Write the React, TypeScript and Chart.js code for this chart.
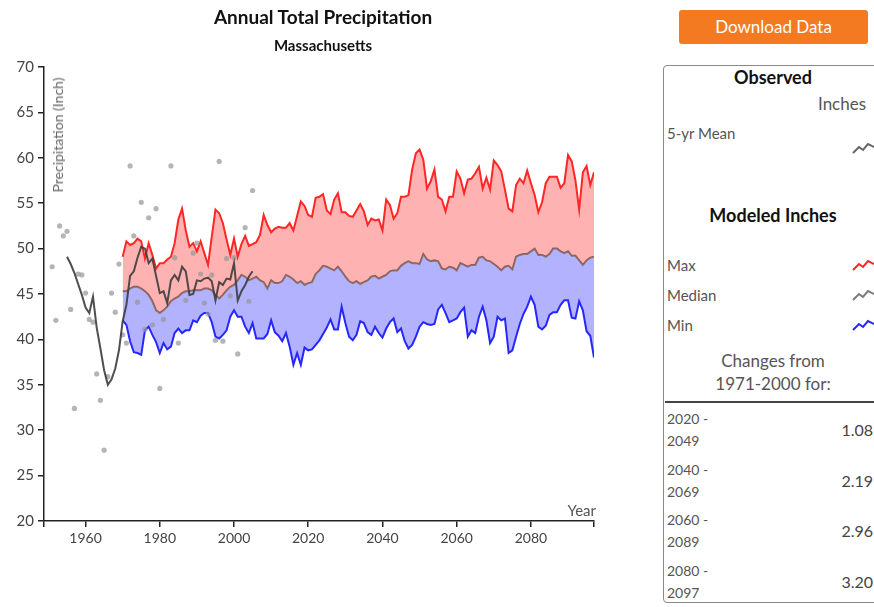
import React, { useEffect, useRef } from 'react';
import { Chart, registerables } from 'chart.js';

Chart.register(...registerables);

// ---- axis ----
const X_MIN = 1948.8;
const X_MAX = 2097;
const xTickYears = [1960, 1980, 2000, 2020, 2040, 2060, 2080];
const Y_MIN = 20;
const Y_MAX = 70;
const Y_STEP = 5;

// ---- observed ----
const observedStartYear = 1951;
const observedAnnual = [
  48.0, 42.1, 52.5, 51.4, 51.9, 43.3, 32.4, 47.2, 47.1, 45.1,
  42.2, 41.9, 36.2, 33.3, 27.8, 35.9, 45.1, 43.0, 48.3, 40.5,
  39.6, 59.1, 51.4, 44.1, 55.1, 41.1, 53.4, 41.6, 54.4, 34.6,
  42.2, null, 59.1, 49.0, 39.6, null, 44.3, null, 49.5, 50.6,
  47.2, 44.0, 42.8, 47.1, 39.9, 59.6, 39.8, 48.9, 44.8, 49.0,
  38.4, null, 52.3, 44.2, 56.4,
];

const meanStartYear = 1955;
const observedMean5yr = [
  49.1, 48.3, 47.3, 46.1, 44.9, 43.5, 42.9, 44.7, 41.3, 39.0,
  36.6, 35.0, 35.6, 36.8, 38.8, 42.0, 43.8, 47.0, 47.5, 49.0,
  50.2, 50.0, 48.4, 48.9, 47.0, 45.1, 45.3, 44.0, 46.5, 47.1,
  46.5, 48.0, 47.5, 44.9, 45.0, 46.5, 46.4, 46.7, 46.8, 46.4,
  44.3, 46.3, 46.0, 46.7, 46.6, 48.4, 44.3, 45.3, 46.0, 46.9,
  47.5,
];

// ---- modeled ----
const modelStartYear = 1970;
const modeledMax = [
  49.1, 50.8, 50.4, 50.6, 51.1, 50.8, 48.9, 50.6, 49.3, 47.8,
  48.4, 48.4, 48.8, 49.1, 50.6, 53.2, 54.4, 52.0, 50.2, 50.6,
  49.7, 50.8, 49.5, 48.2, 51.3, 54.3, 53.9, 52.8, 51.0, 49.3,
  51.1, 49.1, 50.5, 51.4, 50.3, 50.5, 50.7, 51.5, 53.7, 52.6,
  51.8, 52.2, 52.4, 52.3, 52.3, 52.8, 52.0, 53.6, 55.2, 54.7,
  53.7, 53.5, 55.6, 55.7, 56.0, 54.2, 53.8, 55.4, 56.1, 54.0,
  54.0, 53.6, 53.5, 54.2, 54.9, 54.1, 52.6, 53.3, 53.1, 53.2,
  52.0, 55.4, 54.8, 53.3, 53.9, 55.7, 55.7, 55.9, 58.7, 60.5,
  60.9, 59.8, 56.6, 57.4, 58.7, 55.7, 55.4, 54.1, 55.7, 55.7,
  58.5, 57.7, 56.1, 57.6, 57.7, 58.3, 59.0, 56.6, 57.8, 56.5,
  59.7, 59.2, 58.5, 56.5, 54.4, 54.1, 57.0, 57.7, 57.2, 58.6,
  57.2, 55.9, 54.0, 55.1, 57.2, 57.9, 57.9, 57.9, 56.7, 57.2,
  60.3, 59.6, 57.5, 54.3, 58.4, 59.1, 57.0, 58.4,
];

const modeledMedian = [
  45.3, 45.3, 45.6, 45.8, 45.8, 45.6, 45.3, 44.9, 44.2, 43.2,
  42.9, 43.2, 43.6, 44.2, 44.5, 44.7, 45.1, 45.3, 45.3, 45.4,
  45.4, 45.4, 45.6, 45.6, 45.4, 44.9, 44.5, 44.9, 45.4, 45.8,
  46.0, 46.5, 47.1, 46.9, 46.5, 46.7, 46.9, 46.5, 46.3, 45.6,
  46.5, 46.2, 46.2, 46.4, 47.1, 46.9, 46.6, 46.2, 46.4, 46.0,
  46.2, 46.3, 47.2, 47.6, 48.1, 48.0, 47.8, 47.6, 48.0, 47.5,
  46.9, 46.4, 46.2, 46.4, 46.1, 46.3, 46.5, 46.9, 47.0, 46.7,
  46.9, 47.1, 47.5, 47.6, 47.6, 48.1, 48.4, 48.6, 48.4, 48.4,
  48.3, 49.4, 48.8, 48.6, 48.7, 48.6, 47.8, 47.7, 48.0, 47.9,
  47.6, 48.4, 48.2, 48.0, 48.2, 48.2, 49.0, 49.1, 48.7, 48.6,
  48.3, 48.0, 47.6, 48.0, 48.1, 47.7, 49.1, 49.3, 49.4, 49.4,
  49.7, 50.0, 49.3, 49.3, 49.1, 49.4, 50.0, 50.0, 49.7, 49.5,
  49.7, 49.2, 49.2, 48.7, 48.2, 48.7, 49.0, 49.1,
];

const modeledMin = [
  42.1, 41.6, 39.8, 38.6, 38.5, 38.3, 41.0, 41.4, 40.5, 39.7,
  38.5, 39.6, 38.9, 39.2, 40.7, 41.2, 40.7, 41.0, 41.0, 42.1,
  41.9, 42.6, 42.9, 42.9, 41.9, 40.3, 40.1, 40.5, 41.0, 42.5,
  43.2, 42.5, 42.5, 41.4, 40.7, 41.8, 40.1, 40.1, 40.1, 40.6,
  42.1, 40.8, 40.4, 39.8, 40.7, 39.2, 37.2, 38.5, 37.2, 39.1,
  38.8, 38.9, 39.4, 39.9, 40.6, 41.3, 42.2, 41.1, 41.1, 43.6,
  41.8, 40.3, 39.9, 40.5, 42.0, 41.8, 40.8, 40.5, 41.4, 40.7,
  40.2, 41.2, 41.9, 42.3, 40.8, 41.2, 39.8, 39.0, 39.4, 40.3,
  41.4, 41.9, 41.7, 41.6, 41.7, 43.3, 43.8, 42.9, 41.9, 42.1,
  42.3, 43.0, 43.5, 40.3, 41.0, 40.7, 42.5, 43.6, 42.1, 39.6,
  40.3, 42.5, 42.1, 42.3, 38.5, 38.8, 40.3, 41.7, 42.8, 43.6,
  44.7, 43.8, 41.4, 41.1, 41.5, 42.7, 43.0, 43.0, 43.8, 44.3,
  44.3, 42.4, 42.3, 44.2, 43.2, 40.9, 40.4, 38.0,
];

// ---- side panel ----
const changePeriodStarts = ['2020 -', '2040 -', '2060 -', '2080 -'];
const changePeriodEnds = ['2049', '2069', '2089', '2097'];
const changeValues = ['1.08', '2.19', '2.96', '3.20'];

const toPoints = (start: number, arr: (number | null)[]) =>
  arr.map((v, i) => ({ x: start + i, y: v }));

const FONT = 'Lato, "Open Sans", sans-serif';

function Icon({ color, top }: { color: string; top: number }) {
  return (
    <svg
      width={24}
      height={14}
      style={{ position: 'absolute', left: 852, top }}
    >
      <polyline
        points="1,12 7,6 11,9 16,3 24,7"
        fill="none"
        stroke={color}
        strokeWidth={2}
      />
    </svg>
  );
}

export default function App() {
  const canvasRef = useRef<HTMLCanvasElement | null>(null);

  useEffect(() => {
    if (!canvasRef.current) return;
    const tickFont = { family: FONT, size: 14 };
    const chart = new Chart(canvasRef.current, {
      type: 'line',
      data: {
        datasets: [
          {
            label: '5-yr Mean',
            data: toPoints(meanStartYear, observedMean5yr),
            borderColor: 'rgba(60,60,60,0.9)',
            borderWidth: 2,
            pointRadius: 0,
            fill: false,
            tension: 0,
          },
          {
            label: 'Observed',
            data: toPoints(observedStartYear, observedAnnual),
            showLine: false,
            backgroundColor: 'rgba(150,150,150,0.7)',
            borderWidth: 0,
            pointRadius: 2.6,
            fill: false,
          },
          {
            label: 'Max',
            data: toPoints(modelStartYear, modeledMax),
            borderColor: '#ff2626',
            borderWidth: 2,
            pointRadius: 0,
            fill: 3,
            backgroundColor: 'rgba(255,0,0,0.3)',
            tension: 0,
          },
          {
            label: 'Median',
            data: toPoints(modelStartYear, modeledMedian),
            borderColor: '#7a7a7a',
            borderWidth: 2,
            pointRadius: 0,
            fill: false,
            tension: 0,
          },
          {
            label: 'Min',
            data: toPoints(modelStartYear, modeledMin),
            borderColor: '#2626ff',
            borderWidth: 2,
            pointRadius: 0,
            fill: 3,
            backgroundColor: 'rgba(0,0,255,0.3)',
            tension: 0,
          },
        ],
      },
      options: {
        animation: false,
        responsive: false,
        maintainAspectRatio: false,
        layout: { padding: { left: 0, top: 67, right: 46, bottom: 46 } },
        plugins: {
          legend: { display: false },
          tooltip: { enabled: false },
          title: { display: false },
        },
        scales: {
          x: {
            type: 'linear',
            min: X_MIN,
            max: X_MAX,
            afterBuildTicks: (s: any) => {
              s.ticks = [X_MIN, ...xTickYears, X_MAX].map((v) => ({ value: v }));
            },
            afterFit: (s: any) => {
              s.height = 40;
            },
            ticks: {
              autoSkip: false,
              maxRotation: 0,
              minRotation: 0,
              color: '#444',
              font: tickFont,
              padding: 3,
              callback: (v: any) => (xTickYears.includes(v) ? String(v) : ''),
            },
            grid: {
              drawOnChartArea: false,
              drawTicks: true,
              tickLength: 6,
              color: '#222',
              lineWidth: 1.5,
            },
            border: { display: true, color: '#222', width: 1.5 },
          },
          y: {
            type: 'linear',
            min: Y_MIN,
            max: Y_MAX,
            afterFit: (s: any) => {
              s.width = 44;
            },
            ticks: {
              stepSize: Y_STEP,
              color: '#444',
              font: { family: FONT, size: 15 },
              padding: 4,
            },
            grid: {
              drawOnChartArea: false,
              drawTicks: true,
              tickLength: 6,
              color: '#222',
              lineWidth: 1.5,
            },
            border: { display: true, color: '#222', width: 1.5 },
          },
        },
      } as any,
    });
    return () => chart.destroy();
  }, []);

  const abs = (o: React.CSSProperties): React.CSSProperties => ({
    position: 'absolute',
    whiteSpace: 'nowrap',
    ...o,
  });

  return (
    <div
      style={{
        position: 'absolute',
        left: 0,
        top: 0,
        width: 874,
        height: 607,
        overflow: 'hidden',
        background: '#fff',
        fontFamily: FONT,
      }}
    >
      <canvas
        ref={canvasRef}
        width={640}
        height={607}
        style={{ position: 'absolute', left: 0, top: 0 }}
      />
      {/* titles */}
      <div style={abs({ left: 0, width: 646, top: 4, lineHeight: '26px', textAlign: 'center', fontWeight: 700, fontSize: 19, color: '#111' })}>
        Annual Total Precipitation
      </div>
      <div style={abs({ left: 0, width: 646, top: 34, lineHeight: '22px', textAlign: 'center', fontWeight: 700, fontSize: 15, color: '#111' })}>
        Massachusetts
      </div>
      {/* axis titles */}
      <div
        style={abs({
          left: 58,
          top: 135,
          transform: 'translate(-50%,-50%) rotate(-90deg)',
          fontSize: 14,
          color: '#666',
          lineHeight: '16px',
        })}
      >
        Precipitation (Inch)
      </div>
      <div style={abs({ right: 874 - 596, top: 500, lineHeight: '20px', fontSize: 15, color: '#555' })}>Year</div>

      {/* download button */}
      <div
        style={abs({
          left: 679,
          top: 10,
          width: 189,
          height: 34,
          background: '#f37a21',
          borderRadius: 3,
          color: '#fff',
          fontSize: 17,
          lineHeight: '34px',
          textAlign: 'center',
        })}
      >
        Download Data
      </div>

      {/* side panel */}
      <div
        style={abs({
          left: 663,
          top: 65,
          width: 222,
          height: 538,
          border: '1px solid #888',
          borderRadius: 4,
          boxSizing: 'border-box',
        })}
      />
      <div style={abs({ left: 663, width: 220, top: 66, lineHeight: '22px', textAlign: 'center', fontWeight: 700, fontSize: 18, color: '#111' })}>
        Observed
      </div>
      <div style={abs({ left: 818, top: 93, lineHeight: '22px', fontSize: 17, color: '#555' })}>Inches</div>
      <div style={abs({ left: 667, top: 123, lineHeight: '20px', fontSize: 15, color: '#555' })}>5-yr Mean</div>
      <Icon color="#666" top={141} />

      <div style={abs({ left: 663, width: 220, top: 204, lineHeight: '22px', textAlign: 'center', fontWeight: 700, fontSize: 18, color: '#111' })}>
        Modeled Inches
      </div>
      <div style={abs({ left: 667, top: 255, lineHeight: '20px', fontSize: 15, color: '#555' })}>Max</div>
      <div style={abs({ left: 667, top: 285, lineHeight: '20px', fontSize: 15, color: '#555' })}>Median</div>
      <div style={abs({ left: 667, top: 315, lineHeight: '20px', fontSize: 15, color: '#555' })}>Min</div>
      <Icon color="#ff2626" top={258} />
      <Icon color="#7a7a7a" top={288} />
      <Icon color="#2626ff" top={318} />

      <div style={abs({ left: 663, width: 220, top: 350, lineHeight: '22px', textAlign: 'center', fontSize: 17, color: '#555' })}>
        Changes from
      </div>
      <div style={abs({ left: 663, width: 220, top: 373, lineHeight: '22px', textAlign: 'center', fontSize: 17, color: '#555' })}>
        1971-2000 for:
      </div>
      <div style={abs({ left: 665, top: 401, width: 220, height: 2, background: '#444' })} />

      {changeValues.map((val, i) => (
        <React.Fragment key={i}>
          <div style={abs({ left: 667, top: 409 + i * 50.5, lineHeight: '20px', fontSize: 14, color: '#555' })}>
            {changePeriodStarts[i]}
          </div>
          <div style={abs({ left: 667, top: 431 + i * 50.5, lineHeight: '20px', fontSize: 14, color: '#555' })}>
            {changePeriodEnds[i]}
          </div>
          <div style={abs({ right: 874 - 873, top: 420 + i * 50.5, lineHeight: '20px', fontSize: 16, color: '#444' })}>
            {val}
          </div>
        </React.Fragment>
      ))}
    </div>
  );
}
